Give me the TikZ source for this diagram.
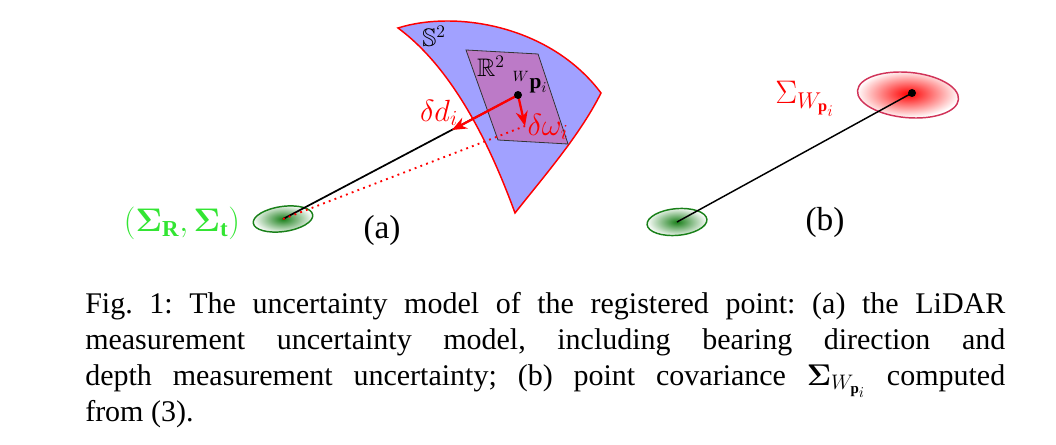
\RequirePackage{fix-cm}
\documentclass[tikz,border=0pt]{standalone}
\usepackage{amsmath,amssymb,bm}
\usepackage{fontspec}
\setmainfont{Liberation Serif}
\usetikzlibrary{arrows.meta}
\definecolor{patchblue}{rgb}{0,0,1}
\definecolor{planepurple}{rgb}{0.9,0.25,0.45}
\definecolor{darkgreen}{rgb}{0.1,0.5,0.1}
\definecolor{labgreen}{rgb}{0.2,0.9,0.2}
\definecolor{ellred}{rgb}{0.82,0.2,0.35}
\tikzset{
  x=0.75pt, y=-0.75pt,
  ray/.style={line width=1.3pt, black},
  errarrow/.style={red, line width=1.7pt, -{Stealth[length=11pt,width=9pt]}},
  dotray/.style={red, line width=1.4pt, dash pattern=on 1.4pt off 3.2pt},
  pointdot/.style={circle, fill=black, inner sep=0pt, minimum size=6pt},
  mlabel/.style={font=\fontsize{23}{26}\selectfont, inner sep=0pt},
  biglabel/.style={font=\fontsize{24.5}{28}\selectfont, inner sep=0pt},
  setlabel/.style={font=\fontsize{19}{22}\selectfont, inner sep=0pt},
  panellabel/.style={font=\fontsize{25}{30}\selectfont, inner sep=0pt},
}
\begin{document}
\begin{tikzpicture}
\frenchspacing
\path[use as bounding box] (0,0) rectangle (1056,445);

% ---------- panel (a) ----------
\coordinate (oa) at (283,219);
\coordinate (p) at (518,95);
\coordinate (dtip) at (452,130);
\coordinate (wtip) at (525,126);

% green ellipse (a)
\begin{scope}[shift={(oa)}, x=1pt, y=1pt, rotate=8]
  \shade[inner color=darkgreen, outer color=white] (0,0) ellipse (22.5pt and 9.4pt);
  \draw[darkgreen, line width=1.1pt] (0,0) ellipse (22.5pt and 9.4pt);
\end{scope}

% ray from origin to point
\draw[ray] (oa) -- (p);

% sphere patch S^2
\path[fill=patchblue, fill opacity=0.37]
  (398,28) .. controls (455,10) and (550,25) .. (601,93)
  .. controls (580,135) and (545,175) .. (515,213)
  .. controls (492,150) and (455,70) .. cycle;
\draw[red, line width=1.1pt]
  (398,28) .. controls (455,10) and (550,25) .. (601,93)
  .. controls (580,135) and (545,175) .. (515,213)
  .. controls (492,150) and (455,70) .. cycle;

% tangent plane R^2
\draw[fill=planepurple, fill opacity=0.4, draw=black!80, line width=0.6pt]
  (466,50) -- (538,54) -- (568,144) -- (498,140) -- cycle;

% dotted ray to the perturbed point
\draw[dotray] (oa) -- (wtip);

% error arrows
\draw[errarrow] (p) -- (dtip);
\draw[errarrow] (p) -- (wtip);
\node[pointdot] (pt) at (p) {};

% labels (a)
\node[setlabel] (s2) at (434,36) {$\mathbb{S}^2$};
\node[setlabel] (r2) at (491,66) {$\mathbb{R}^2$};
\node[inner sep=0pt, font=\fontsize{16}{18}\selectfont, anchor=base] (wp) at (530,89) {${}^{W}\mathbf{p}_i$};
\node[mlabel, red] (dd) at (439,113) {$\delta d_i$};
\node[mlabel, red] (dw) at (548,127) {$\delta\omega_i$};
\node[biglabel, labgreen] (sig) at (182,223) {$(\boldsymbol{\Sigma}_{\mathbf{R}},\boldsymbol{\Sigma}_{\mathbf{t}})$};
\node[panellabel] (la) at (382,230) {(a)};

% ---------- panel (b) ----------
\coordinate (ob) at (677,222);
\coordinate (pb) at (912,93);
\begin{scope}[shift={(908,95)}, x=1pt, y=1pt, rotate=-5]
  \shade[inner color=red, outer color=white] (0,0) ellipse (38pt and 17pt);
  \draw[ellred, line width=1.1pt] (0,0) ellipse (38pt and 17pt);
\end{scope}
\begin{scope}[shift={(ob)}, x=1pt, y=1pt, rotate=5]
  \shade[inner color=darkgreen, outer color=white] (0,0) ellipse (22.5pt and 10pt);
  \draw[darkgreen, line width=1.1pt] (0,0) ellipse (22.5pt and 10pt);
\end{scope}
\draw[ray, line width=1.1pt] (ob) -- (pb);
\node[pointdot] (ptb) at (pb) {};
\node[biglabel, red] (sigb) at (805,99) {$\Sigma_{W_{\mathbf{p}_i}}$};
\node[panellabel] (lb) at (825,222) {(b)};

% ---------- caption ----------
\node[anchor=north west, inner sep=0pt, text width=690pt, align=justify,
      font=\fontsize{22.5}{27}\selectfont] (cap) at (85,292)
{\frenchspacing Fig.~1: The uncertainty model of the registered point: (a) the LiDAR\linebreak
measurement uncertainty model, including bearing direction and\linebreak
depth measurement uncertainty; (b) point covariance $\boldsymbol{\Sigma}_{W_{\mathbf{p}_i}}$ computed\linebreak
from (3).};
\end{tikzpicture}
\end{document}
